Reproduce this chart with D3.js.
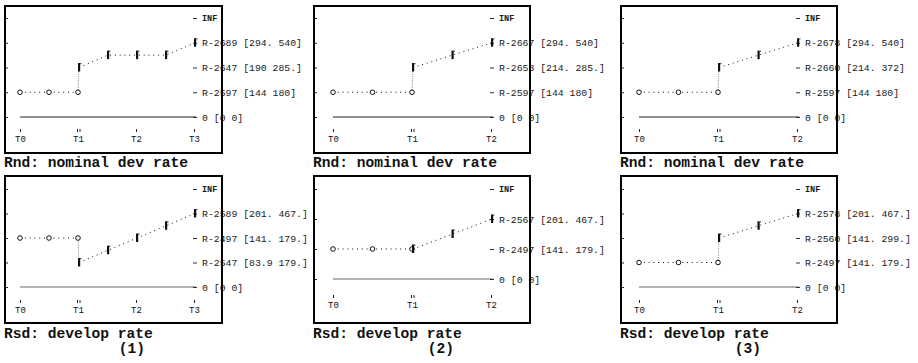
<!DOCTYPE html>
<html>
<head>
<meta charset="utf-8">
<script src="https://cdn.jsdelivr.net/npm/d3@7/dist/d3.min.js"></script>
<style>
  html, body { margin: 0; padding: 0; background: #fff; }
  svg { display: block; }
  .lvl text { font-family: "Liberation Mono", monospace; font-size: 9.8px; fill: #1a1a1a; }
  .tax text { font-family: "Liberation Mono", monospace; font-size: 9px; fill: #111; }
  .ttl { font-family: "Liberation Mono", monospace; font-size: 14.6px; font-weight: bold; fill: #111; }
</style>
</head>
<body>
<svg id="chart" width="918" height="363"></svg>
<script>
// ---- data -------------------------------------------------------------
const timeLabels3 = ["T0", "T1", "T2", "T3"];
const timeLabels2 = ["T0", "T1", "T2"];
const splitTick = "T1";                 // boundary between fixed and developed phase

// level ladders, bottom (0) to top (INF)
const rndLevels1 = ["0 [0 0]", "R-2597 [144 180]", "R-2647 [190 285.]", "R-2689 [294. 540]", "INF"];
const rndLevels2 = ["0 [0 0]", "R-2597 [144 180]", "R-2653 [214. 285.]", "R-2667 [294. 540]", "INF"];
const rndLevels3 = ["0 [0 0]", "R-2597 [144 180]", "R-2660 [214. 372]", "R-2678 [294. 540]", "INF"];
const rsdLevels1 = ["0 [0 0]", "R-2547 [83.9 179.]", "R-2497 [141. 179.]", "R-2589 [201. 467.]", "INF"];
const rsdLevels2 = ["0 [0 0]", "R-2497 [141. 179.]", "R-2567 [201. 467.]", "INF"];
const rsdLevels3 = ["0 [0 0]", "R-2497 [141. 179.]", "R-2560 [141. 299.]", "R-2578 [201. 467.]", "INF"];

// time positions (in T units) of the fixed-phase circles and developed-phase bars
const circleSteps = [0, 0.5, 1];
const barSteps3 = [1, 1.5, 2, 2.5, 3];
const barSteps2 = [1, 1.5, 2];

// level index reached at each step
const rndCircles1 = [1, 1, 1];  const rndBars1 = [2, 2.5, 2.5, 2.5, 3];
const rndCircles2 = [1, 1, 1];  const rndBars2 = [2, 2.5, 3];
const rndCircles3 = [1, 1, 1];  const rndBars3 = [2, 2.5, 3];
const rsdCircles1 = [2, 2, 2];  const rsdBars1 = [1, 1.5, 2, 2.5, 3];
const rsdCircles2 = [1, 1, 1];  const rsdBars2 = [1, 1.5, 2];
const rsdCircles3 = [1, 1, 1];  const rsdBars3 = [2, 2.5, 3];

const rndTitle = "Rnd: nominal dev rate";
const rsdTitle = "Rsd: develop rate";
const panelTags = ["(1)", "(2)", "(3)"];

// ---- layout -----------------------------------------------------------
const cols = [
  { box: [4, 222],   time: [20, 194],  labels: timeLabels3, bars: barSteps3 },
  { box: [313, 530], time: [333, 491], labels: timeLabels2, bars: barSteps2 },
  { box: [620, 837], time: [639, 797], labels: timeLabels2, bars: barSteps2 }
];
const rows = [
  { box: [5, 153], title: rndTitle, titleY: 167,
    panels: [
      { levels: rndLevels1, circles: rndCircles1, values: rndBars1, y: [117, 18], axisY: 129 },
      { levels: rndLevels2, circles: rndCircles2, values: rndBars2, y: [117, 18], axisY: 129 },
      { levels: rndLevels3, circles: rndCircles3, values: rndBars3, y: [117, 18], axisY: 129 }
    ] },
  { box: [175, 323], title: rsdTitle, titleY: 338,
    panels: [
      { levels: rsdLevels1, circles: rsdCircles1, values: rsdBars1, y: [287, 189], axisY: 300 },
      { levels: rsdLevels2, circles: rsdCircles2, values: rsdBars2, y: [279, 189], axisY: 295 },
      { levels: rsdLevels3, circles: rsdCircles3, values: rsdBars3, y: [287, 189], axisY: 300 }
    ] }
];

const svg = d3.select("#chart");

rows.forEach((row, r) => {
  row.panels.forEach((p, c) => {
    const col = cols[c];
    const g = svg.append("g");
    const nT = col.labels.length - 1;

    const x = d3.scaleLinear().domain([0, nT]).range(col.time);
    const y = d3.scaleLinear().domain([0, p.levels.length - 1]).range(p.y);
    const levelIdx = d3.range(p.levels.length);

    // time axis: short ticks with T labels
    const tAxis = d3.axisBottom(x)
      .tickValues(d3.range(nT + 1))
      .tickFormat(i => col.labels[i])
      .tickSize(3).tickPadding(4);
    const ta = g.append("g").attr("class", "tax")
      .attr("transform", `translate(0,${p.axisY})`).call(tAxis);
    ta.select(".domain").remove();
    ta.selectAll(".tick line").attr("stroke", "#222");
    ta.selectAll(".tick").filter(i => col.labels[i] === splitTick).each(function () {
      const t = d3.select(this);
      t.select("line").attr("x1", -1).attr("x2", -1);
      t.append("line").attr("x1", 1.5).attr("x2", 1.5).attr("y2", 3).attr("stroke", "#222");
    });

    // zero baseline
    g.append("line")
      .attr("x1", x(0)).attr("x2", x(nT) + 2)
      .attr("y1", y(0)).attr("y2", y(0))
      .attr("stroke", r === 0 ? "#222" : "#666").attr("stroke-width", 1.2);

    // level ladder on the right
    const lAxis = d3.axisRight(y)
      .tickValues(levelIdx)
      .tickFormat(i => p.levels[i])
      .tickSize(4).tickPadding(5);
    const la = g.append("g").attr("class", "lvl")
      .attr("transform", `translate(${x(nT) - 1},0)`).call(lAxis);
    la.select(".domain").remove();
    la.selectAll(".tick line").attr("stroke", "#333");
    la.selectAll(".tick text").filter(i => p.levels[i] === "INF")
      .style("font-weight", "bold").style("font-size", "8.5px");

    // matching ticks on the left frame edge
    const lt = g.append("g")
      .attr("transform", `translate(${col.box[0]},0)`)
      .call(d3.axisRight(y).tickValues(levelIdx).tickFormat("").tickSize(4));
    lt.select(".domain").remove();
    lt.selectAll(".tick line").attr("stroke", "#222");

    // fixed phase: circles joined by dotted line
    const circ = circleSteps.map((s, i) => [x(s), y(p.circles[i])]);
    const bars = col.bars.map((s, i) => [x(s) + 1, y(p.values[i])]);
    const line = d3.line();

    g.append("path").attr("d", line(circ))
      .attr("fill", "none").attr("stroke", "#111").attr("stroke-width", 1)
      .attr("stroke-dasharray", "1,3.8");

    // transition at the split
    g.append("path").attr("d", line([circ[circ.length - 1], bars[0]]))
      .attr("fill", "none").attr("stroke", "#888").attr("stroke-width", 1)
      .attr("stroke-dasharray", "1,1.2");

    // developed phase
    g.append("path").attr("d", line(bars))
      .attr("fill", "none").attr("stroke", "#111").attr("stroke-width", 1)
      .attr("stroke-dasharray", "1,3.8");

    g.selectAll("circle.pt").data(circ).join("circle")
      .attr("class", "pt")
      .attr("cx", d => d[0]).attr("cy", d => d[1]).attr("r", 2.3)
      .attr("fill", "#fff").attr("stroke", "#111").attr("stroke-width", 1);

    const bm = g.selectAll("g.bar").data(bars).join("g")
      .attr("class", "bar")
      .attr("transform", d => `translate(${d[0]},${d[1]})`);
    bm.append("rect").attr("x", -1).attr("y", -4.5).attr("width", 2.2).attr("height", 8.5).attr("fill", "#111");
    bm.append("rect").attr("x", 1.2).attr("y", -4.5).attr("width", 1.2).attr("height", 1.2).attr("fill", "#333");

    // frame (drawn last so it crosses the labels)
    g.append("rect")
      .attr("x", col.box[0] + 1).attr("y", row.box[0] + 1)
      .attr("width", col.box[1] - col.box[0] - 1)
      .attr("height", row.box[1] - row.box[0] - 1)
      .attr("fill", "none").attr("stroke", "#000").attr("stroke-width", 2);

    // caption
    svg.append("text").attr("class", "ttl")
      .attr("x", col.box[0]).attr("y", row.titleY).text(row.title);
    if (r === 1) {
      svg.append("text").attr("class", "ttl")
        .attr("x", col.box[0] + 128).attr("y", 353)
        .attr("text-anchor", "middle").text(panelTags[c]);
    }
  });
});
</script>
</body>
</html>
